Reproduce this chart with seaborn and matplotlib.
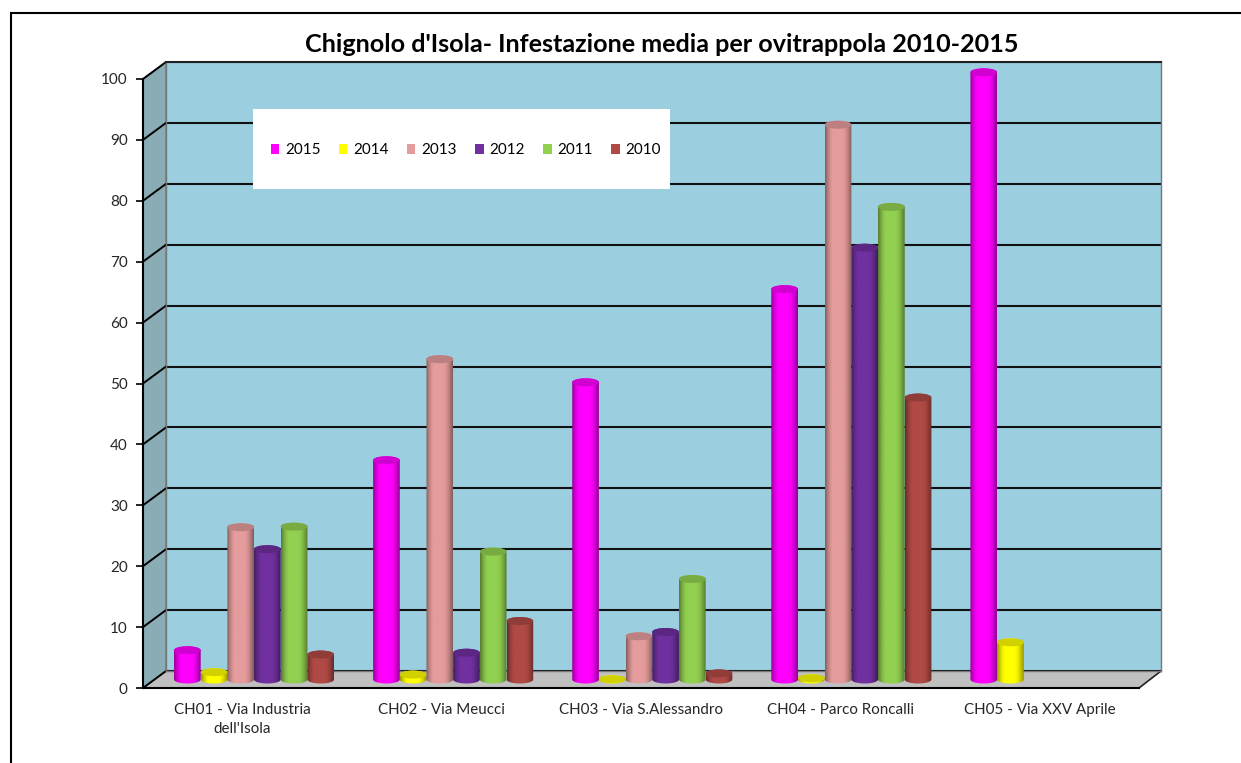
import numpy as np
import pandas as pd
import matplotlib
matplotlib.use("Agg")
import matplotlib.pyplot as plt
import seaborn as sns
from matplotlib.colors import to_rgb
from matplotlib.patches import Ellipse, Polygon, Rectangle

# values
sites = ["CH01 - Via Industria\ndell'Isola", "CH02 - Via Meucci", "CH03 - Via S.Alessandro",
         "CH04 - Parco Roncalli", "CH05 - Via XXV Aprile"]
years = ["2015", "2014", "2013", "2012", "2011", "2010"]
v2015 = [4.8, 36.0, 48.8, 64.1, 99.7]
v2014 = [1.2, 0.8, 0.05, 0.2, 6.1]
v2013 = [25.0, 52.6, 7.1, 91.1]
v2012 = [21.4, 4.4, 7.8, 70.9]
v2011 = [25.1, 21.0, 16.5, 77.6]
v2010 = [4.1, 9.6, 1.0, 46.3]
year_colors = ["#ff00ff", "#ffff00", "#e59c9c", "#7030a0", "#92d050", "#b04a45"]
y_ticks = list(range(0, 101, 10))

series = [v2015, v2014, v2013, v2012, v2011, v2010]
rows = []
for year, vals in zip(years, series):
    for site, v in zip(sites, vals):
        rows.append({"site": site, "year": year, "value": v})
df = pd.DataFrame(rows)

sns.set_style("white")
plt.rcParams["font.family"] = ["Lato", "DejaVu Sans"]
TXT = "#262626"
W, H = 1241, 763
fig = plt.figure(figsize=(W / 100, H / 100), dpi=100)


def axes_px(x0, y_top, x1, y_bot, **kw):
    # axes placed by its pixel box, y measured from the top of the picture
    return fig.add_axes([x0 / W, 1 - y_bot / H, (x1 - x0) / W, (y_bot - y_top) / H], **kw)


# pixels of the 3D box: front plane, back wall, and plane the bars stand in
UNIT = 6.09
FX0, FX1, FY0 = 143, 1139, 688
BX0, BX1, BY0 = 166, 1161, 671

# background layer in picture pixels: frame, side wall, floor
bg = axes_px(0, 0, W, H, zorder=0)
bg.set_xlim(0, W)
bg.set_ylim(H, 0)
bg.axis("off")
bg.plot([11, 11, W], [H, 13, 13], color="black", lw=1.5, solid_joinstyle="miter")
bg.add_patch(Polygon([(FX0, FY0 - 100 * UNIT), (BX0, BY0 - 100 * UNIT), (BX0, BY0), (FX0, FY0)],
                     fc="#8aacb5", ec="#777777", lw=1))
bg.add_patch(Polygon([(FX0, FY0), (FX1, FY0), (BX1, BY0), (BX0, BY0)], fc="#c0c0c0", ec="none"))
bg.plot([FX1, BX1], [FY0, BY0], color="#222222", lw=1.2)
for t in y_ticks:
    bg.plot([FX0, BX0], [FY0 - t * UNIT, BY0 - t * UNIT], color="black", lw=1.4)

# back wall with its gridlines
wall = axes_px(BX0, BY0 - 100 * UNIT, BX1, BY0, zorder=1, facecolor="#9bcfe0")
wall.set_ylim(0, 100)
wall.set_xlim(0, 1)
wall.set_yticks(y_ticks)
wall.set_xticks([])
wall.set_yticklabels([])
wall.grid(axis="y", color="#111111", lw=1.5)
wall.set_axisbelow(True)
for name, sp in wall.spines.items():
    sp.set_visible(True)
    sp.set_color("#777777")
    sp.set_linewidth(1)
wall.spines["top"].set_color("#222222")
wall.spines["top"].set_linewidth(1.5)
wall.add_patch(Rectangle((253, 109), 417, 80, transform=bg.transData, fc="white", ec="none", zorder=2))

# bars
ax = axes_px((FX0 + BX0) / 2, (FY0 + BY0) / 2 - 100 * UNIT, (FX1 + BX1) / 2, (FY0 + BY0) / 2,
             zorder=2, facecolor="none")
sns.barplot(data=df, x="site", y="value", hue="year", order=sites, hue_order=years,
            palette=year_colors, saturation=1, width=0.804, gap=0, ax=ax, legend=False)
ax.set_xlim(-0.5, 4.5)
ax.set_ylim(0, 100)
ax.axis("off")

# turn each bar into a shaded cylinder
ELL = 8 / UNIT
shade = np.array([0.6, 0.78, 0.92, 1.0, 1.0, 1.0, 1.0, 1.0, 0.97, 0.88, 0.74, 0.58])
xs = np.linspace(0, len(shade) - 1, 64)
shade = np.interp(xs, np.arange(len(shade)), shade)
theta = np.linspace(0, np.pi, 40)
for cont, col in zip(ax.containers, year_colors):
    rgb = np.array(to_rgb(col))
    grad = (shade[:, None] * rgb)[None, :, :]
    for bar in cont.patches:
        x0, w, v = bar.get_x(), bar.get_width(), bar.get_height()
        bar.set_visible(False)
        cx = x0 + w / 2
        upper = np.c_[cx + w / 2 * np.cos(theta), v + ELL / 2 * np.sin(theta)]
        lower = np.c_[cx - w / 2 * np.cos(theta), -ELL / 2 * np.sin(theta)]
        body = Polygon(np.r_[upper, lower], transform=ax.transData, fc="none", ec="none", clip_on=False)
        ax.add_patch(body)
        im = ax.imshow(grad, extent=[x0, x0 + w, -ELL, v + ELL], aspect="auto", zorder=3)
        im.set_clip_box(fig.bbox)
        im.set_clip_path(body)
        ax.add_patch(Ellipse((cx, v), w, ELL, fc=rgb * 0.82, ec="none", zorder=4, clip_on=False))
ax.set_xlim(-0.5, 4.5)
ax.set_ylim(0, 100)

# legend inside the white box
handles = [Rectangle((0, 0), 1, 1, fc=c, ec="none") for c in year_colors]
leg = ax.legend(handles, years, ncol=6, frameon=False, fontsize=11,
                loc="center left", bbox_to_anchor=(271 / W, 1 - 150 / H), bbox_transform=fig.transFigure,
                handlelength=0.55, handleheight=0.62, handletextpad=0.38, columnspacing=1.2,
                borderpad=0, borderaxespad=0)
for t in leg.get_texts():
    t.set_color("black")

# front plane: value axis and site labels
front = axes_px(FX0, FY0 - 100 * UNIT, FX1, FY0, zorder=3, facecolor="none")
front.set_xlim(-0.5, 4.5)
front.set_ylim(0, 100)
front.set_yticks(y_ticks)
front.set_yticklabels([str(t) for t in y_ticks], fontsize=11, color=TXT)
front.set_xticks(range(len(sites)))
front.set_xticklabels(sites, fontsize=10.9, color=TXT, linespacing=1.4)
front.tick_params(axis="y", length=5, width=1.2, color="black", pad=6, left=True)
front.tick_params(axis="x", length=0, pad=11)
for name, sp in front.spines.items():
    sp.set_visible(name in ("left", "bottom"))
    sp.set_color("black")
    sp.set_linewidth(1.5)

fig.text(662 / W, 1 - 45 / H, "Chignolo d'Isola- Infestazione media per ovitrappola 2010-2015",
         ha="center", va="center", fontsize=18.1, fontweight="bold", color="black")

fig.savefig("out.png", dpi=100)
